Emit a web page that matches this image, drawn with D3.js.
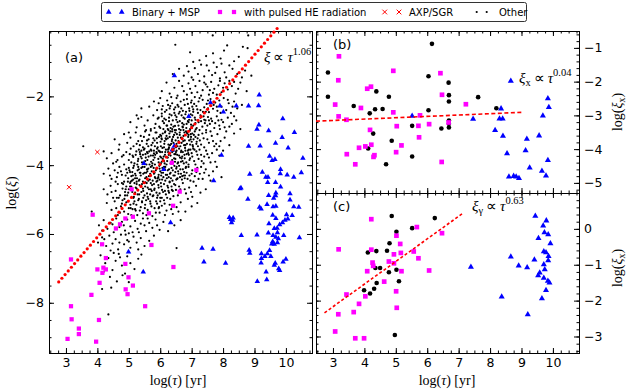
<!DOCTYPE html>
<meta charset="utf-8">
<head>
  <script src="https://d3js.org/d3.v7.min.js"></script>
  <style>
    body { margin: 0; background: #fff; }
    .tick text { font-family: "DejaVu Sans", sans-serif; font-size: 12.5px; fill: #000; }
    .tick line { stroke: #000; }
    .math { font-family: "Liberation Serif", serif; fill: #000; }
    .lab { font-family: "DejaVu Sans", sans-serif; fill: #000; }
  </style>
</head>
<body>
<div id="chart"></div>
<script>
// ---- data ----
var xTicks = [3, 4, 5, 6, 7, 8, 9, 10];
var yTicksA = [-8, -6, -4, -2];
var yTicksB = [-5, -4, -3, -2, -1];
var yTicksC = [-3, -2, -1, 0];

var legendLabels = ["Binary + MSP", "with pulsed HE radiation", "AXP/SGR", "Other"];

// fits: [slope, intercept, xFrom, xTo]
var fitA = [1.06, -10.33, 2.77, 9.72];
var fitB = [0.04, -3.27, 2.46, 9.04];
var fitC = [0.63, -4.06, 2.73, 7.13];

// panel (a)
var otherA = [
[6.48,-0.50],[7.67,-0.23],[8.80,-0.23],[8.13,-0.52],[8.63,-0.56],[8.78,-0.60],[7.68,-0.75],[8.03,-0.67],[7.46,-0.83],[7.25,-0.95],[7.92,-0.90],[8.35,-0.98],[7.05,-1.00],[7.70,-1.02],[8.50,-0.85],[6.95,-0.72],
[6.60,-1.20],[6.85,-1.12],[7.10,-1.18],[7.30,-1.08],[7.55,-1.25],[7.80,-1.15],[8.05,-1.30],[8.20,-1.10],[8.45,-1.35],[8.70,-1.25],[6.75,-1.40],[7.00,-1.45],[7.20,-1.35],[7.40,-1.42],[7.65,-1.38],[7.90,-1.48],[8.10,-1.45],[8.30,-1.20],[6.40,-1.35],[7.48,-1.10],[7.95,-1.05],[8.60,-1.45],[6.90,-1.28],[7.75,-1.32],[8.90,-1.40],
[6.20,-1.60],[6.45,-1.75],[6.60,-1.55],[6.75,-1.85],[6.90,-1.62],[7.00,-1.90],[7.12,-1.70],[7.25,-1.55],[7.35,-1.82],[7.45,-1.65],[7.55,-1.95],[7.62,-1.58],[7.72,-1.78],[7.85,-1.68],[7.95,-1.88],[8.05,-1.62],[8.15,-1.80],[8.28,-1.70],[8.40,-1.92],[8.55,-1.60],[8.75,-1.85],[6.30,-1.92],[6.55,-1.98],[6.85,-1.95],[7.05,-1.52],[7.30,-1.98],[7.50,-1.72],[7.80,-1.95],[8.00,-1.75],[8.20,-1.55],[6.70,-1.70],[7.18,-1.88],[7.68,-1.90],[8.35,-1.58],[6.05,-1.85],[7.40,-1.60],[7.90,-1.55],[8.48,-1.78],[6.95,-1.78],[7.58,-1.82],
[5.65,-2.30],[5.80,-2.15],[5.90,-2.40],[6.00,-2.05],[6.08,-2.28],[6.15,-2.45],[6.22,-2.12],[6.30,-2.35],[6.38,-2.20],[6.45,-2.48],[6.52,-2.05],[6.58,-2.30],[6.65,-2.15],[6.72,-2.42],[6.78,-2.25],[6.85,-2.08],[6.92,-2.35],[6.98,-2.18],[7.05,-2.45],[7.10,-2.02],[7.15,-2.28],[7.22,-2.15],[7.28,-2.40],[7.35,-2.10],[7.40,-2.32],[7.48,-2.22],[7.55,-2.46],[7.60,-2.08],[7.68,-2.36],[7.75,-2.18],[7.82,-2.42],[7.88,-2.12],[7.95,-2.30],[8.02,-2.05],[8.10,-2.40],[8.18,-2.20],[8.25,-2.48],[8.35,-2.15],[8.45,-2.35],[8.60,-2.25],[6.05,-2.38],[6.35,-2.02],[6.62,-2.45],[6.88,-2.22],[7.02,-2.30],[7.25,-2.05],[7.45,-2.45],[7.70,-2.25],[7.92,-2.48],[8.15,-2.10],[5.95,-2.20],[6.48,-2.32],[6.75,-2.10],[7.18,-2.38],[7.52,-2.12],[7.80,-2.30],[8.30,-2.30],[6.25,-2.25],[7.00,-2.12],[7.62,-2.28],[5.40,-2.35],[5.25,-2.55],
[5.05,-2.75],[5.25,-2.90],[5.40,-2.60],[5.50,-2.85],[5.60,-2.70],[5.70,-2.95],[5.78,-2.55],[5.85,-2.80],[5.92,-2.65],[6.00,-2.92],[6.05,-2.58],[6.12,-2.78],[6.18,-2.68],[6.24,-2.95],[6.30,-2.52],[6.35,-2.82],[6.40,-2.70],[6.46,-2.98],[6.52,-2.60],[6.58,-2.85],[6.62,-2.72],[6.68,-2.55],[6.72,-2.90],[6.78,-2.65],[6.84,-2.80],[6.90,-2.58],[6.95,-2.95],[7.00,-2.70],[7.05,-2.85],[7.10,-2.62],[7.16,-2.92],[7.22,-2.75],[7.28,-2.55],[7.34,-2.88],[7.40,-2.68],[7.46,-2.98],[7.52,-2.60],[7.58,-2.80],[7.65,-2.72],[7.72,-2.92],[7.80,-2.58],[7.88,-2.85],[7.95,-2.68],[8.05,-2.90],[8.15,-2.62],[8.28,-2.80],[8.42,-2.70],[8.55,-2.95],[5.30,-2.65],[5.55,-2.98],[5.82,-2.92],[6.08,-2.72],[6.28,-2.62],[6.42,-2.88],[6.55,-2.75],[6.65,-2.98],[6.80,-2.52],[6.88,-2.72],[7.02,-2.55],[7.12,-2.78],[7.25,-2.98],[7.38,-2.58],[7.50,-2.85],[7.62,-2.65],[7.75,-2.78],[7.90,-2.95],[8.00,-2.75],[8.20,-2.88],[5.95,-2.62],[6.20,-2.85],[6.48,-2.55],[6.75,-2.82],[6.98,-2.82],[7.30,-2.72],[7.55,-2.70],[7.85,-2.70],[8.35,-2.58],[6.38,-2.95],[6.92,-2.68],[7.42,-2.78],
[4.55,-3.25],[4.70,-3.40],[4.85,-3.10],[4.95,-3.35],[5.05,-3.20],[5.15,-3.45],[5.22,-3.05],[5.30,-3.30],[5.38,-3.15],[5.45,-3.48],[5.52,-3.02],[5.58,-3.28],[5.65,-3.12],[5.72,-3.42],[5.78,-3.22],[5.85,-3.05],[5.90,-3.35],[5.96,-3.18],[6.02,-3.45],[6.08,-3.08],[6.14,-3.30],[6.20,-3.15],[6.26,-3.40],[6.32,-3.02],[6.38,-3.25],[6.44,-3.12],[6.50,-3.48],[6.56,-3.20],[6.62,-3.05],[6.68,-3.35],[6.74,-3.15],[6.80,-3.42],[6.86,-3.08],[6.92,-3.28],[6.98,-3.18],[7.04,-3.46],[7.10,-3.02],[7.16,-3.32],[7.22,-3.12],[7.30,-3.40],[7.38,-3.22],[7.46,-3.05],[7.55,-3.35],[7.64,-3.15],[7.72,-3.45],[7.82,-3.10],[7.92,-3.30],[8.05,-3.20],[8.20,-3.42],[8.35,-3.08],[3.55,-3.45],[5.00,-3.05],[5.25,-3.38],[5.48,-3.18],[5.62,-3.45],[5.82,-3.28],[6.00,-3.12],[6.12,-3.48],[6.24,-3.22],[6.35,-3.38],[6.48,-3.05],[6.58,-3.30],[6.70,-3.22],[6.82,-3.02],[6.95,-3.40],[7.06,-3.25],[7.20,-3.45],[7.34,-3.08],[7.50,-3.25],[7.68,-3.30],[7.88,-3.45],[8.10,-3.02],[5.70,-3.00],[5.92,-3.48],[6.16,-3.02],[6.42,-3.35],[6.64,-3.45],[6.90,-3.12],[7.12,-3.18],[7.40,-3.48],[7.60,-3.02],[5.35,-3.42],[6.05,-3.25],[6.30,-3.18],[6.52,-3.38],[6.78,-3.28],[7.02,-3.08],[7.26,-3.28],[7.78,-3.38],
[4.30,-3.80],[4.45,-3.65],[4.60,-3.90],[4.68,-3.55],[4.78,-3.75],[4.85,-3.98],[4.92,-3.62],[5.00,-3.85],[5.06,-3.52],[5.12,-3.72],[5.18,-3.95],[5.24,-3.60],[5.30,-3.82],[5.36,-3.68],[5.42,-3.92],[5.48,-3.55],[5.54,-3.78],[5.60,-3.65],[5.66,-3.98],[5.72,-3.58],[5.78,-3.85],[5.84,-3.70],[5.90,-3.52],[5.95,-3.92],[6.00,-3.75],[6.06,-3.62],[6.12,-3.88],[6.18,-3.55],[6.24,-3.78],[6.30,-3.66],[6.36,-3.95],[6.42,-3.58],[6.48,-3.82],[6.54,-3.70],[6.60,-3.52],[6.66,-3.90],[6.72,-3.62],[6.78,-3.80],[6.84,-3.68],[6.90,-3.98],[6.96,-3.55],[7.02,-3.75],[7.08,-3.88],[7.15,-3.60],[7.22,-3.82],[7.30,-3.70],[7.38,-3.95],[7.46,-3.58],[7.55,-3.78],[7.65,-3.65],[7.75,-3.90],[7.88,-3.72],[8.00,-3.58],[4.64,-3.85],[4.83,-3.71],[5.14,-3.76],[5.03,-3.68],[5.27,-3.98],[5.40,-3.58],[5.52,-3.88],[5.63,-3.75],[5.75,-3.95],[5.88,-3.62],[6.02,-3.95],[6.15,-3.70],[6.27,-3.52],[6.38,-3.85],[6.50,-3.62],[6.63,-3.78],[6.75,-3.95],[6.88,-3.58],[7.00,-3.65],[7.12,-3.98],[7.25,-3.55],[7.40,-3.75],[7.60,-3.92],[7.80,-3.55],[5.08,-3.92],[5.32,-3.55],[5.58,-3.62],[5.82,-3.78],[6.08,-3.82],[6.33,-3.72],[6.57,-3.92],[6.80,-3.58],[7.05,-3.52],[7.32,-3.88],[5.45,-3.70],[5.70,-3.72],[5.98,-3.60],[6.20,-3.98],[6.45,-3.68],[6.70,-3.75],[6.93,-3.85],[7.18,-3.70],[7.50,-3.68],[4.50,-3.95],[4.20,-3.60],
[4.20,-4.25],[4.35,-4.10],[4.45,-4.40],[4.55,-4.15],[4.62,-4.35],[4.70,-4.05],[4.78,-4.28],[4.85,-4.48],[4.92,-4.12],[4.98,-4.38],[5.04,-4.20],[5.10,-4.45],[5.16,-4.02],[5.22,-4.30],[5.28,-4.15],[5.34,-4.42],[5.40,-4.08],[5.46,-4.25],[5.52,-4.38],[5.58,-4.12],[5.64,-4.32],[5.70,-4.05],[5.76,-4.45],[5.82,-4.22],[5.88,-4.10],[5.94,-4.35],[6.00,-4.18],[6.06,-4.42],[6.12,-4.05],[6.18,-4.28],[6.24,-4.15],[6.30,-4.48],[6.36,-4.08],[6.42,-4.30],[6.48,-4.20],[6.54,-4.40],[6.60,-4.02],[6.66,-4.25],[6.72,-4.12],[6.78,-4.38],[6.84,-4.22],[6.90,-4.05],[6.96,-4.45],[7.02,-4.15],[7.10,-4.32],[7.18,-4.08],[7.26,-4.25],[7.35,-4.40],[7.45,-4.12],[7.55,-4.30],[7.68,-4.18],[7.80,-4.05],[7.95,-4.35],[4.40,-4.30],[4.58,-4.48],[4.75,-4.18],[4.90,-4.30],[5.00,-4.08],[5.13,-4.30],[5.25,-4.48],[5.37,-4.22],[5.50,-4.05],[5.62,-4.45],[5.73,-4.18],[5.85,-4.38],[5.97,-4.02],[6.09,-4.22],[6.21,-4.38],[6.33,-4.22],[6.45,-4.02],[6.57,-4.18],[6.69,-4.42],[6.81,-4.08],[6.93,-4.30],[7.06,-4.48],[7.22,-4.40],[7.40,-4.22],[7.60,-4.45],[5.06,-4.48],[5.30,-4.05],[5.55,-4.22],[5.79,-4.08],[6.03,-4.30],[6.27,-4.35],[6.51,-4.10],[6.75,-4.30],[7.00,-4.25],[7.30,-4.05],[4.65,-4.22],[4.95,-4.22],[5.20,-4.38],[5.45,-4.48],[5.68,-4.25],[5.91,-4.45],[6.15,-4.12],[6.39,-4.45],[6.63,-4.35],[6.87,-4.40],[7.15,-4.20],
[4.20,-4.70],[4.32,-4.85],[4.42,-4.60],[4.50,-4.95],[4.58,-4.75],[4.65,-4.55],[4.72,-4.88],[4.80,-4.68],[4.86,-4.98],[4.92,-4.62],[4.98,-4.80],[5.04,-4.52],[5.10,-4.72],[5.16,-4.92],[5.22,-4.65],[5.28,-4.85],[5.34,-4.58],[5.40,-4.78],[5.46,-4.95],[5.52,-4.62],[5.58,-4.82],[5.64,-4.70],[5.70,-4.52],[5.76,-4.90],[5.82,-4.68],[5.88,-4.80],[5.94,-4.58],[6.00,-4.95],[6.06,-4.72],[6.12,-4.55],[6.18,-4.85],[6.25,-4.65],[6.32,-4.98],[6.40,-4.75],[6.48,-4.58],[6.56,-4.88],[6.64,-4.70],[6.72,-4.52],[6.82,-4.82],[6.92,-4.65],[7.02,-4.92],[7.14,-4.60],[7.28,-4.80],[7.45,-4.70],[4.45,-4.78],[4.62,-4.95],[4.78,-4.52],[4.95,-4.88],[5.08,-4.62],[5.20,-4.80],[5.32,-4.98],[5.45,-4.68],[5.57,-4.52],[5.68,-4.85],[5.80,-4.55],[5.92,-4.88],[6.03,-4.62],[6.15,-4.75],[6.28,-4.80],[6.42,-4.90],[6.60,-4.62],[6.78,-4.70],[6.98,-4.78],[5.00,-4.70],[5.25,-4.55],[5.50,-4.88],[5.73,-4.75],[5.98,-4.82],[6.22,-4.95],[6.50,-4.72],[6.88,-4.98],[4.88,-4.78],[5.62,-4.98],[6.36,-4.62],
[4.30,-5.10],[4.45,-5.30],[4.55,-5.05],[4.65,-5.45],[4.75,-5.20],[4.85,-5.35],[4.92,-5.08],[5.00,-5.25],[5.08,-5.45],[5.15,-5.12],[5.22,-5.32],[5.30,-5.02],[5.38,-5.22],[5.45,-5.40],[5.52,-5.15],[5.60,-5.30],[5.68,-5.05],[5.75,-5.48],[5.82,-5.25],[5.90,-5.12],[5.98,-5.38],[6.05,-5.18],[6.12,-5.02],[6.20,-5.32],[6.30,-5.15],[6.40,-5.42],[6.52,-5.22],[6.65,-5.08],[6.80,-5.35],[7.00,-5.20],[7.18,-5.10],[4.60,-5.25],[4.80,-5.02],[4.98,-5.42],[5.12,-5.28],[5.27,-5.45],[5.42,-5.05],[5.56,-5.45],[5.72,-5.20],[5.86,-5.38],[6.00,-5.05],[6.15,-5.45],[6.35,-5.28],[5.05,-5.15],[5.35,-5.32],[5.65,-5.38],[5.95,-5.25],[4.72,-5.38],[6.58,-5.35],[5.18,-5.05],
[3.82,-5.35],[4.05,-5.75],[4.20,-5.60],[4.32,-5.85],[4.42,-5.68],[4.52,-5.95],[4.60,-5.55],[4.70,-5.80],[4.78,-5.65],[4.88,-5.90],[4.95,-5.58],[5.05,-5.78],[5.12,-5.95],[5.20,-5.62],[5.28,-5.85],[5.38,-5.70],[5.45,-5.55],[5.55,-5.92],[5.65,-5.68],[5.75,-5.82],[5.85,-5.58],[5.98,-5.88],[6.10,-5.65],[6.25,-5.92],[6.45,-5.75],[6.65,-5.60],[4.48,-5.72],[4.84,-5.75],[5.00,-5.98],[5.32,-5.95],[5.60,-5.55],[5.90,-5.75],[4.15,-5.90],[5.50,-5.75],
[4.02,-6.25],[4.15,-6.10],[4.28,-6.35],[4.38,-6.05],[4.48,-6.28],[4.58,-6.15],[4.66,-6.45],[4.75,-6.02],[4.85,-6.30],[4.95,-6.18],[5.05,-6.40],[5.15,-6.08],[5.25,-6.25],[5.38,-6.12],[5.50,-6.35],[5.65,-6.20],[5.80,-6.05],[6.52,-6.41],[4.42,-6.48],[4.90,-6.02],[5.30,-6.45],[4.22,-6.15],[4.70,-6.25],[5.00,-6.22],
[4.10,-6.62],[4.25,-6.85],[4.35,-6.70],[4.48,-7.05],[4.58,-6.78],[4.68,-6.58],[4.78,-6.92],[4.88,-7.15],[4.95,-6.65],[5.05,-6.85],[5.18,-7.02],[5.30,-6.72],[4.40,-7.25],[4.62,-7.38],[4.80,-7.20],[5.00,-7.40],[4.20,-7.10],[4.72,-6.68],[5.40,-6.60],[4.52,-6.55],
[4.35,-8.34],[4.44,-7.56],[4.15,-7.60],
// denser core
[5.88,-3.05],[5.97,-2.88],[6.03,-3.15],[6.10,-2.95],[6.17,-3.22],[6.22,-2.85],[6.29,-3.08],[6.33,-2.92],[6.41,-3.18],[6.47,-2.86],[6.53,-3.10],[6.60,-2.95],[6.66,-3.20],[6.71,-2.88],[6.77,-3.05],[6.83,-2.92],[6.89,-3.18],[6.94,-3.00],[7.00,-2.88],[7.07,-3.12],[7.13,-2.96],[7.19,-3.22],[6.15,-3.05],[6.38,-3.02],[6.62,-3.12],[6.85,-3.05],[6.26,-2.98],[6.50,-2.98],[6.74,-2.98],[6.97,-3.10],
[5.42,-3.30],[5.50,-3.52],[5.57,-3.38],[5.63,-3.25],[5.70,-3.55],[5.76,-3.35],[5.83,-3.45],[5.89,-3.22],[5.95,-3.58],[6.01,-3.32],[6.07,-3.50],[6.13,-3.38],[6.19,-3.25],[6.25,-3.55],[6.31,-3.42],[6.37,-3.30],[6.43,-3.52],[6.49,-3.28],[6.55,-3.45],[6.61,-3.35],[6.67,-3.58],[6.73,-3.30],[6.79,-3.50],[6.85,-3.38],[6.91,-3.55],[6.97,-3.25],[7.03,-3.42],[7.09,-3.55],[7.15,-3.38],[5.80,-3.58],[6.04,-3.22],[6.28,-3.48],[6.52,-3.58],[6.76,-3.42],[7.00,-3.32],
[5.22,-3.70],[5.29,-3.88],[5.35,-3.62],[5.41,-3.80],[5.47,-3.95],[5.53,-3.68],[5.59,-3.85],[5.65,-3.60],[5.71,-3.90],[5.77,-3.72],[5.83,-3.98],[5.89,-3.65],[5.94,-3.82],[6.00,-3.62],[6.05,-3.90],[6.11,-3.75],[6.16,-3.62],[6.22,-3.88],[6.27,-3.70],[6.33,-3.95],[6.38,-3.62],[6.44,-3.80],[6.49,-3.68],[6.55,-3.95],[6.60,-3.72],[6.66,-3.62],[6.71,-3.88],[6.77,-3.70],[6.83,-3.92],[6.89,-3.65],[6.95,-3.80],[5.56,-3.98],[5.80,-3.66],[6.03,-3.78],[6.25,-3.62],[6.47,-3.90],[6.68,-3.80],[6.91,-3.70],[5.38,-3.75],[6.14,-3.95],
[5.02,-4.15],[5.08,-4.32],[5.14,-4.08],[5.20,-4.25],[5.26,-4.38],[5.32,-4.12],[5.38,-4.30],[5.44,-4.05],[5.50,-4.22],[5.56,-4.35],[5.62,-4.10],[5.68,-4.32],[5.74,-4.02],[5.80,-4.25],[5.86,-4.15],[5.92,-4.38],[5.98,-4.10],[6.04,-4.22],[6.10,-4.35],[6.16,-4.05],[6.22,-4.28],[6.28,-4.12],[6.34,-4.38],[6.40,-4.15],[6.46,-4.30],[6.52,-4.05],[6.58,-4.25],[6.64,-4.12],[6.70,-4.32],[6.76,-4.20],[6.82,-4.05],[5.35,-4.22],[5.59,-4.18],[5.83,-4.35],[6.07,-4.08],[6.31,-4.25],[6.55,-4.38],[6.79,-4.30],[5.11,-4.20],[5.95,-4.28],
[4.82,-4.55],[4.90,-4.70],[4.97,-4.48],[5.04,-4.62],[5.11,-4.78],[5.18,-4.52],[5.25,-4.68],[5.32,-4.45],[5.39,-4.60],[5.46,-4.75],[5.53,-4.50],[5.60,-4.65],[5.67,-4.42],[5.74,-4.58],[5.81,-4.72],[5.88,-4.48],[5.95,-4.65],[6.02,-4.52],[6.09,-4.78],[6.16,-4.45],[6.23,-4.60],[6.30,-4.50],[6.37,-4.72],[6.44,-4.55],[6.51,-4.42],[5.14,-4.42],[5.42,-4.55],[5.70,-4.70],[5.98,-4.42],[6.26,-4.75],
[6.05,-2.50],[6.13,-2.65],[6.20,-2.40],[6.28,-2.72],[6.36,-2.55],[6.44,-2.38],[6.51,-2.68],[6.59,-2.50],[6.67,-2.35],[6.74,-2.62],[6.82,-2.45],[6.90,-2.75],[6.97,-2.52],[7.05,-2.38],[7.12,-2.68],[7.20,-2.48],[7.28,-2.62],[7.36,-2.45],[7.44,-2.70],[7.52,-2.35],[6.32,-2.28],[6.70,-2.78],[7.08,-2.22],[6.55,-2.25],[6.93,-2.42],
[4.68,-4.95],[4.78,-5.12],[4.88,-4.88],[4.97,-5.05],[5.06,-5.25],[5.15,-4.95],[5.24,-5.15],[5.33,-4.85],[5.42,-5.08],[5.51,-5.25],[5.60,-4.92],[5.69,-5.12],[5.78,-4.88],[5.87,-5.05],[5.96,-5.22],[6.05,-4.95],[6.14,-5.12],[5.20,-5.28],[5.55,-5.02],[5.90,-4.95]
];

var binaryA = [
[9.15,-1.96],[9.13,-2.27],[8.81,-2.28],[9.90,-2.65],[9.14,-2.83],[9.08,-2.95],[9.45,-3.00],[10.27,-3.05],[9.88,-3.19],[9.67,-3.36],[8.81,-3.45],[9.18,-3.44],[10.07,-3.50],[9.48,-3.74],[9.56,-3.86],[9.65,-3.83],[10.54,-3.80],[9.83,-4.12],[9.25,-4.20],[9.82,-4.25],[10.49,-4.22],[8.85,-4.26],[9.36,-4.35],[9.43,-4.35],[10.04,-4.28],[10.25,-4.35],[7.70,-4.45],[9.42,-4.50],[9.67,-4.50],[9.83,-4.63],[8.57,-4.66],[8.54,-4.68],[9.68,-4.81],[10.13,-4.83],[9.67,-4.89],[9.61,-4.96],[8.79,-4.99],[9.45,-4.88],[9.21,-5.27],[9.16,-5.22],[9.40,-5.14],[9.59,-5.21],[9.68,-5.19],[10.13,-5.01],[10.25,-5.21],[10.41,-5.22],[10.02,-5.44],[10.20,-5.46],[9.58,-5.45],[9.97,-5.60],[9.80,-5.73],[10.06,-5.56],[9.89,-5.67],[9.68,-5.55],[9.46,-5.70],[9.63,-5.84],[9.72,-5.83],[9.73,-5.96],[9.59,-6.04],[9.68,-6.09],[9.58,-6.22],[9.76,-6.14],[9.55,-6.29],[9.63,-6.30],[9.73,-6.25],[9.93,-6.04],[10.43,-6.11],[9.44,-5.97],[9.48,-6.48],[9.41,-6.57],[9.33,-6.65],[9.52,-6.65],[9.22,-6.71],[10.00,-6.73],[9.91,-6.81],[9.66,-6.85],[9.63,-6.91],[9.77,-7.01],[9.80,-7.06],[9.37,-7.10],[9.39,-7.33],[9.09,-7.38],[9.08,-6.03],[8.58,-6.04],[8.83,-6.47],[8.85,-6.56],[9.22,-6.57],[9.21,-6.84],[8.20,-5.52],[8.24,-5.58],[8.30,-5.60],[8.27,-5.67],[8.32,-5.53],[7.33,-6.41],[7.68,-6.44],[7.39,-6.81],[8.08,-6.85],[7.95,-3.71],[7.90,-2.28],[8.01,-2.45],[7.60,-2.18],[8.42,-2.28],
[6.45,-1.40],[6.91,-2.58],[6.45,-3.44],[6.38,-3.56],[5.48,-3.95],[6.11,-4.12],[6.33,-5.67],[4.99,-6.52],[5.46,-7.10]
];

var pulsedA = [
[3.85,-5.44],[3.16,-6.74],[4.15,-6.30],[4.27,-6.70],[4.00,-7.03],[4.19,-6.98],[4.27,-7.03],[4.16,-7.13],[4.07,-7.42],[4.99,-7.26],[4.90,-7.61],[4.96,-7.75],[5.13,-7.50],[3.81,-7.77],[3.16,-8.10],[5.52,-8.10],[6.42,-6.96],[4.89,-6.87],[5.09,-4.70],[5.13,-5.50],[4.89,-5.55],[4.72,-5.72],[5.64,-5.40],[5.72,-6.32],[6.41,-5.18],[6.62,-4.77],[6.37,-3.93],[7.15,-4.14],[4.59,-5.84],
[3.18,-8.48],[3.41,-8.75],[3.41,-8.91],[3.05,-9.05],[3.96,-9.13],[4.05,-8.50]
];

var axpA = [[4.00,-3.62],[3.10,-4.64]];

// panel (b)
var otherB = [
[2.84,-1.73],[2.84,-2.45],[6.15,-0.88],[6.04,-1.84],[6.68,-2.03],[4.38,-2.29],[6.69,-2.40],[4.78,-2.45],[7.62,-2.46],[3.66,-2.72],[6.69,-2.59],[4.34,-2.82],[4.58,-2.81],[4.17,-2.94],[6.04,-2.85],[8.20,-2.79],[6.69,-3.15],[6.69,-3.25],[6.69,-3.36],[6.45,-3.39],[5.52,-3.31],[4.28,-3.54],[4.87,-3.75],[4.12,-3.98],[5.52,-4.22],[4.69,-4.45]
];
var pulsedB = [
[3.19,-1.25],[3.17,-1.96],[4.92,-1.68],[6.42,-1.75],[4.21,-2.15],[4.09,-2.21],[6.47,-2.39],[3.07,-2.68],[7.23,-2.67],[3.89,-2.78],[3.18,-3.03],[3.43,-3.13],[4.92,-2.91],[5.77,-3.00],[6.68,-3.21],[5.03,-3.32],[5.72,-3.31],[6.06,-3.26],[4.18,-3.43],[5.74,-3.65],[5.18,-3.89],[4.22,-3.87],[3.83,-3.96],[4.03,-3.92],[4.32,-4.18],[4.29,-4.23],[3.44,-4.15],[5.01,-4.09],[3.71,-4.45],[6.46,-4.38]
];
var binaryB = [
[8.66,-1.98],[5.52,-3.02],[7.46,-3.11],[8.35,-2.80],[8.30,-3.10],[8.40,-3.10],[8.16,-3.44],[8.41,-3.61],[8.54,-4.13],[9.17,-3.70],[9.56,-3.60],[9.13,-4.04],[9.26,-4.55],[8.60,-4.82],[8.75,-4.80],[8.83,-4.82],[8.92,-4.86],[9.65,-4.65],[9.78,-4.79],[9.84,-2.50],[9.87,-2.76],[9.68,-3.01],[9.84,-4.33]
];

// panel (c)
var otherC = [
[4.87,0.36],[6.24,0.30],[5.52,0.02],[5.02,-0.08],[4.80,-0.40],[4.11,-0.66],[4.38,-0.62],[4.72,-0.61],[4.35,-1.09],[4.50,-1.09],[4.78,-1.21],[5.02,-1.14],[5.10,-1.46],[4.39,-1.51],[4.31,-1.67],[3.99,-1.71],[4.18,-1.80],[4.97,-2.96]
];
var pulsedC = [
[4.22,0.27],[5.67,0.05],[5.02,-0.19],[6.47,-0.12],[3.18,-0.57],[5.14,-0.42],[4.22,-0.58],[4.94,-0.71],[5.16,-0.67],[5.57,-0.63],[5.72,-0.82],[4.26,-0.94],[4.78,-0.91],[4.94,-0.96],[4.28,-1.03],[4.09,-1.18],[5.18,-1.18],[6.06,-1.16],[4.63,-1.47],[5.01,-1.74],[3.43,-1.83],[4.03,-1.88],[3.83,-2.09],[5.03,-2.20],[3.66,-2.32],[3.17,-2.38],[3.07,-2.86],[3.71,-3.05],[3.99,-3.05]
];
var binaryC = [
[9.44,0.36],[9.79,0.23],[9.69,0.09],[9.73,-0.10],[9.85,-0.16],[9.54,-0.26],[9.92,-0.41],[9.71,-0.63],[9.78,-0.66],[9.86,-0.76],[9.85,-0.88],[9.41,-0.86],[9.71,-0.99],[8.66,-0.78],[8.91,-1.03],[9.18,-1.08],[9.74,-1.13],[9.58,-1.22],[9.53,-1.30],[9.71,-1.37],[9.84,-1.45],[9.89,-1.50],[9.78,-1.71],[9.65,-1.94],[7.39,-1.06],[8.37,-1.89],[9.20,-2.39]
];

// ---- layout ----
var width = 629, height = 391;
var BLUE = "#0000ff", MAG = "#ff00ff", RED = "#ff0000";

var svg = d3.select("#chart").append("svg")
    .attr("width", width).attr("height", height);

var xDom = [2.46, 10.83];
var xA = d3.scaleLinear().domain(xDom).range([49, 312]);
var yA = d3.scaleLinear().domain([-9.46, -0.1]).range([353, 31]);
var xB = d3.scaleLinear().domain(xDom).range([316, 579]);
var yB = d3.scaleLinear().domain([-5.3, -0.5]).range([193, 31]);
var yC = d3.scaleLinear().domain([-3.46, 1.0]).range([353, 193]);

function minorTicks(dom, step) {
  var lo = Math.ceil(Math.min(dom[0], dom[1]) / step - 1e-9);
  var hi = Math.floor(Math.max(dom[0], dom[1]) / step + 1e-9);
  return d3.range(lo, hi + 1).map(function(i) { return +(i * step).toFixed(4); });
}

function side(g, axisFn, scale, tr, major, minorStep, labels) {
  var a = g.append("g").attr("transform", tr)
    .call(axisFn(scale).tickValues(major).tickSize(-5).tickSizeOuter(0).tickPadding(5)
      .tickFormat(labels ? d3.format("d") : ""));
  a.attr("font-family", null).attr("font-size", null);
  a.select(".domain").remove();
  var m = g.append("g").attr("transform", tr)
    .call(axisFn(scale).tickValues(minorTicks(scale.domain(), minorStep)).tickSize(-2.5).tickSizeOuter(0).tickFormat(""));
  m.select(".domain").remove();
  return a;
}

function panel(x, y, yMajor, yMinor, opts) {
  var g = svg.append("g");
  var x0 = x.range()[0], x1 = x.range()[1], y0 = y.range()[1], y1 = y.range()[0];
  side(g, d3.axisBottom, x, "translate(0," + y1 + ")", xTicks, 0.25, opts.xLabels);
  side(g, d3.axisTop, x, "translate(0," + y0 + ")", xTicks, 0.25, false);
  side(g, d3.axisLeft, y, "translate(" + x0 + ",0)", yMajor, yMinor, opts.left);
  side(g, d3.axisRight, y, "translate(" + x1 + ",0)", yMajor, yMinor, opts.right);
  g.append("rect")
    .attr("x", x0 + 0.5).attr("y", y0 + 0.5)
    .attr("width", x1 - x0).attr("height", y1 - y0)
    .attr("fill", "none").attr("stroke", "#000").attr("stroke-width", 1);
  return g;
}

function dots(data, x, y, r) {
  svg.append("g").selectAll("circle").data(data).join("circle")
    .attr("cx", function(d) { return x(d[0]); })
    .attr("cy", function(d) { return y(d[1]); })
    .attr("r", r).attr("fill", "#000");
}
function syms(data, x, y, type, size, color) {
  svg.append("g").selectAll("path").data(data).join("path")
    .attr("d", d3.symbol(type, size))
    .attr("transform", function(d) { return "translate(" + x(d[0]) + "," + y(d[1]) + ")"; })
    .attr("fill", color);
}

// panels
panel(xA, yA, yTicksA, 0.5, {xLabels: true, left: true, right: false});
panel(xB, yB, yTicksB, 0.2, {xLabels: false, left: false, right: true});
panel(xB, yC, yTicksC, 0.2, {xLabels: true, left: false, right: true});

// panel (a) points
dots(otherA, xA, yA, 1.1);
syms(binaryA, xA, yA, d3.symbolTriangle, 13, BLUE);
syms(pulsedA, xA, yA, d3.symbolSquare, 18, MAG);
svg.append("g").selectAll("path").data(axpA).join("path")
  .attr("d", d3.symbol(d3.symbolX, 14))
  .attr("transform", function(d) { return "translate(" + xA(d[0]) + "," + yA(d[1]) + ")"; })
  .attr("fill", "none").attr("stroke", RED).attr("stroke-width", 1);

// fit (a): red markers along the fitted line
var nA = 70;
var fitPtsA = d3.range(nA).map(function(i) {
  var t = fitA[2] + i * (fitA[3] - fitA[2]) / (nA - 1);
  return [t, fitA[0] * t + fitA[1]];
});
svg.append("g").selectAll("circle").data(fitPtsA).join("circle")
  .attr("cx", function(d) { return xA(d[0]); })
  .attr("cy", function(d) { return yA(d[1]); })
  .attr("r", 1.6).attr("fill", RED);

// panel (b) points
dots(otherB, xB, yB, 2.3);
syms(pulsedB, xB, yB, d3.symbolSquare, 22, MAG);
syms(binaryB, xB, yB, d3.symbolTriangle, 16, BLUE);
svg.append("line")
  .attr("x1", xB(fitB[2])).attr("y1", yB(fitB[0] * fitB[2] + fitB[1]))
  .attr("x2", xB(fitB[3])).attr("y2", yB(fitB[0] * fitB[3] + fitB[1]))
  .attr("stroke", RED).attr("stroke-width", 1.6).attr("stroke-dasharray", "4,2.5");

// panel (c) points
dots(otherC, xB, yC, 2.3);
syms(pulsedC, xB, yC, d3.symbolSquare, 22, MAG);
syms(binaryC, xB, yC, d3.symbolTriangle, 16, BLUE);
svg.append("line")
  .attr("x1", xB(fitC[2])).attr("y1", yC(fitC[0] * fitC[2] + fitC[1]))
  .attr("x2", xB(fitC[3])).attr("y2", yC(fitC[0] * fitC[3] + fitC[1]))
  .attr("stroke", RED).attr("stroke-width", 1.6).attr("stroke-dasharray", "3,2.2");

// panel letters
svg.append("text").attr("class", "lab").attr("x", 65).attr("y", 62).attr("font-size", 13).text("(a)");
svg.append("text").attr("class", "lab").attr("x", 333).attr("y", 49).attr("font-size", 13).text("(b)");
svg.append("text").attr("class", "lab").attr("x", 333).attr("y", 211).attr("font-size", 13).text("(c)");

// relation labels
function relation(x, y, sub, expo) {
  var t = svg.append("text").attr("class", "math").attr("x", x).attr("y", y).attr("font-size", 15);
  t.append("tspan").attr("font-style", "italic").text("ξ");
  if (sub) t.append("tspan").attr("font-size", 10.5).attr("dy", 3).text(sub);
  t.append("tspan").attr("dy", sub ? -3 : 0).text("\u2009∝\u2009");
  t.append("tspan").attr("font-style", "italic").text("τ");
  t.append("tspan").attr("font-size", 10.5).attr("dy", -7).text(expo);
}
relation(264, 62, "", "1.06");
relation(519, 83, "x", "0.04");
relation(472, 211, "γ", "0.63");

// axis labels
function xlab(cx) {
  var t = svg.append("text").attr("class", "math").attr("x", cx).attr("y", 385)
    .attr("text-anchor", "middle").attr("font-size", 14);
  t.append("tspan").text("log(");
  t.append("tspan").attr("font-style", "italic").text("τ");
  t.append("tspan").text(")  [yr]");
}
xlab(178);
xlab(447);

var ylA = svg.append("text").attr("class", "math").attr("font-size", 14)
  .attr("text-anchor", "middle").attr("transform", "translate(16,193) rotate(-90)");
ylA.append("tspan").text("log(");
ylA.append("tspan").attr("font-style", "italic").text("ξ");
ylA.append("tspan").text(")");

[112, 268].forEach(function(cy) {
  var t = svg.append("text").attr("class", "math").attr("font-size", 14)
    .attr("text-anchor", "middle").attr("transform", "translate(622," + cy + ") rotate(-90)");
  t.append("tspan").text("log(");
  t.append("tspan").attr("font-style", "italic").text("ξ");
  t.append("tspan").attr("font-size", 10).attr("dy", 3).text("x");
  t.append("tspan").attr("dy", -3).text(")");
});

// legend
var leg = svg.append("g");
leg.append("rect").attr("x", 101.5).attr("y", 2.5).attr("width", 425).attr("height", 19)
  .attr("rx", 2).attr("fill", "#fff").attr("stroke", "#333").attr("stroke-width", 1);
var legX = [[108.7, 121.7, 132], [220, 234, 244], [384.7, 399, 409], [476.7, 486.7, 499]];
legX.forEach(function(p, i) {
  [p[0], p[1]].forEach(function(mx) {
    var tr = "translate(" + mx + ",12)";
    if (i === 0) leg.append("path").attr("d", d3.symbol(d3.symbolTriangle, 14)).attr("transform", tr).attr("fill", BLUE);
    if (i === 1) leg.append("path").attr("d", d3.symbol(d3.symbolSquare, 18)).attr("transform", tr).attr("fill", MAG);
    if (i === 2) leg.append("path").attr("d", d3.symbol(d3.symbolX, 16)).attr("transform", tr).attr("fill", "none").attr("stroke", RED).attr("stroke-width", 1);
    if (i === 3) leg.append("circle").attr("cx", mx).attr("cy", 12).attr("r", 1.1).attr("fill", "#000");
  });
  leg.append("text").attr("class", "lab").attr("x", p[2]).attr("y", 16).attr("font-size", 10).text(legendLabels[i]);
});
</script>
</body>
